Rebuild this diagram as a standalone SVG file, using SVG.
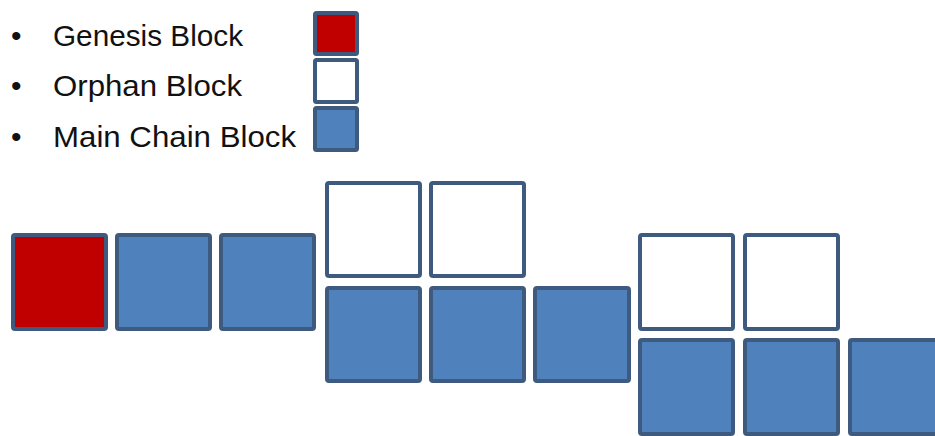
<svg xmlns="http://www.w3.org/2000/svg" width="935" height="436" viewBox="0 0 935 436">
<defs>
<style>
.blk{stroke:#3E5A7E;stroke-width:4;stroke-linejoin:round}
.gen{fill:#C00000}
.orp{fill:#FFFFFF}
.main{fill:#4F81BD}
.lbl{font-family:"Liberation Sans",Arial,sans-serif;font-size:30px;fill:#111}
</style>
</defs>
<rect width="935" height="436" fill="#fff"/>
<g id="legend">
<g id="legend-genesis">
<text class="lbl" x="11" y="46">•</text>
<text class="lbl" x="53" y="46" textLength="190" lengthAdjust="spacingAndGlyphs">Genesis Block</text>
<rect class="blk gen" x="315" y="13" width="42" height="41" rx="1.5"/>
</g>
<g id="legend-orphan">
<text class="lbl" x="11" y="96">•</text>
<text class="lbl" x="53" y="96" textLength="189" lengthAdjust="spacingAndGlyphs">Orphan Block</text>
<rect class="blk orp" x="315" y="60" width="42" height="42" rx="1.5"/>
</g>
<g id="legend-main">
<text class="lbl" x="11" y="147">•</text>
<text class="lbl" x="53" y="147" textLength="243" lengthAdjust="spacingAndGlyphs">Main Chain Block</text>
<rect class="blk main" x="315" y="108" width="42" height="42" rx="1.5"/>
</g>
</g>
<g id="connectors"></g>
<g id="b1"><rect class="blk gen" x="13" y="235" width="93" height="94" rx="2"/></g>
<g id="b2"><rect class="blk main" x="117" y="235" width="93" height="94" rx="2"/></g>
<g id="b3"><rect class="blk main" x="221" y="235" width="93" height="94" rx="2"/></g>
<g id="o1"><rect class="blk orp" x="327" y="183" width="93" height="93" rx="2"/></g>
<g id="o2"><rect class="blk orp" x="431" y="183" width="93" height="93" rx="2"/></g>
<g id="b4"><rect class="blk main" x="327" y="288" width="93" height="93" rx="2"/></g>
<g id="b5"><rect class="blk main" x="431" y="288" width="93" height="93" rx="2"/></g>
<g id="b6"><rect class="blk main" x="535" y="288" width="94" height="93" rx="2"/></g>
<g id="o3"><rect class="blk orp" x="640" y="235" width="93" height="94" rx="2"/></g>
<g id="o4"><rect class="blk orp" x="745" y="235" width="93" height="94" rx="2"/></g>
<g id="b7"><rect class="blk main" x="640" y="340" width="93" height="94" rx="2"/></g>
<g id="b8"><rect class="blk main" x="745" y="340" width="93" height="94" rx="2"/></g>
<g id="b9"><rect class="blk main" x="850" y="340" width="93" height="94" rx="2"/></g>
</svg>
